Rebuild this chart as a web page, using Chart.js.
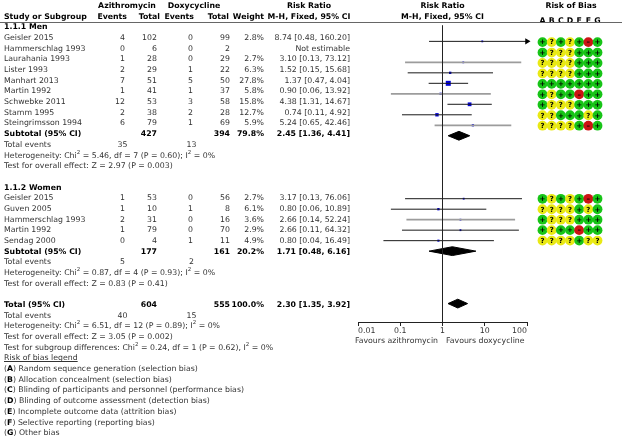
<!DOCTYPE html>
<html><head><meta charset="utf-8">
<script src="https://cdn.jsdelivr.net/npm/chart.js@4.4.1/dist/chart.umd.min.js"></script>
<style>
html,body{margin:0;padding:0;background:#fff;}
#wrap{position:relative;width:622px;height:448px;overflow:hidden;font-family:"DejaVu Sans",Verdana,sans-serif;font-size:7.8px;color:#333;}
canvas{position:absolute;top:0;}
#forest{left:0;}
#bias{left:533px;}
.t{position:absolute;white-space:nowrap;line-height:10px;}
.b{font-weight:bold;color:#000;}
.u{text-decoration:underline;}
sup{font-size:5.5px;line-height:0;vertical-align:4px;}
#rule{position:absolute;left:0;top:22px;width:622px;border-top:1px solid #666;}
</style></head>
<body><div id="wrap"><canvas id="forest" width="622" height="448"></canvas><canvas id="bias" width="74" height="448"></canvas><div id="rule"></div></div>
<script>
// ---------- DATA ----------
const subgroupNames = ['1.1.1 Men', '1.1.2 Women'];

const menStudies = ['Geisler 2015','Hammerschlag 1993','Laurahania 1993','Lister 1993','Manhart 2013','Martin 1992','Schwebke 2011','Stamm 1995','Steingrimsson 1994'];
const menAzEvents = [4,0,1,2,7,1,12,2,6];
const menAzTotal = [102,6,28,29,51,41,53,38,79];
const menDoxEvents = [0,0,0,1,5,1,3,2,1];
const menDoxTotal = [99,2,29,22,50,37,58,28,69];
const menWeight = [2.8,null,2.7,6.3,27.8,5.8,15.8,12.7,5.9];
const menRR = [8.74,null,3.10,1.52,1.37,0.90,4.38,0.74,5.24];
const menLo = [0.48,null,0.13,0.15,0.47,0.06,1.31,0.11,0.65];
const menHi = [160.20,null,73.12,15.68,4.04,13.92,14.67,4.92,42.46];
const menBias = ['+?+?+-+','+???+++','????+++','????+++','+++++++','+?++-++','+???+++','??+++?+','????+-+'];

const womenStudies = ['Geisler 2015','Guven 2005','Hammerschlag 1993','Martin 1992','Sendag 2000'];
const womenAzEvents = [1,1,2,1,0];
const womenAzTotal = [53,10,31,79,4];
const womenDoxEvents = [0,1,0,0,1];
const womenDoxTotal = [56,8,16,70,11];
const womenWeight = [2.7,6.1,3.6,2.9,4.9];
const womenRR = [3.17,0.80,2.66,2.66,0.80];
const womenLo = [0.13,0.06,0.14,0.11,0.04];
const womenHi = [76.06,10.89,52.24,64.32,16.49];
const womenBias = ['+?+?+-+','????+?+','+???+++','+?++-++','????+??'];

const subtotalAzTotal = [427,177];
const subtotalDoxTotal = [394,161];
const subtotalWeight = [79.8,20.2];
const subtotalRR = [2.45,1.71];
const subtotalLo = [1.36,0.48];
const subtotalHi = [4.41,6.16];
const subtotalAzEvents = [35,5];
const subtotalDoxEvents = [13,2];
const subHetChi = ['5.46','0.87'];
const subHetDf = [7,4];
const subHetP = ['0.60','0.93'];
const subHetI2 = [0,0];
const subZ = ['2.97','0.83'];
const subZP = ['0.003','0.41'];

const totalAzTotal = 604, totalDoxTotal = 555, totalWeight = 100.0;
const totalRR = 2.30, totalLo = 1.35, totalHi = 3.92;
const totalAzEvents = 40, totalDoxEvents = 15;
const totalHet = {chi:'6.51', df:12, p:'0.89', i2:0};
const totalZ = {z:'3.05', p:'0.002'};
const subgroupDiff = {chi:'0.24', df:1, p:'0.62', i2:0};

const axisTicks = [0.01, 0.1, 1, 10, 100];
const axisTickLabels = ['0.01','0.1','1','10','100'];
const favoursLeft = 'Favours azithromycin';
const favoursRight = 'Favours doxycycline';

const biasDomains = ['A','B','C','D','E','F','G'];
const biasLegend = ['Random sequence generation (selection bias)','Allocation concealment (selection bias)','Blinding of participants and personnel (performance bias)','Blinding of outcome assessment (detection bias)','Incomplete outcome data (attrition bias)','Selective reporting (reporting bias)','Other bias'];

// ---------- LAYOUT / STYLE ----------
const W = 622, H = 448;
const rowPx = 10.68, row0 = 6;
const rowY = r => row0 + rowPx * r;
const yMin = -row0 / rowPx, yMax = (H - row0) / rowPx;
const COL = {name:4, ae:125, at:157, de:193, dt:230, w:264, rr:350, evA:122.5, evD:191.5};
const HCOL = {ae:127, at:160, de:194, dt:229, w:264};
const ruleRow = (22 - row0) / rowPx;
const axisRow = (324 - row0) / rowPx;
const favRow = (341 - row0) / rowPx;
const greyRows = [5, 8, 11, 20];
const biasColor = {'+':'#17c417', '?':'#e9e914', '-':'#cc1414'};
const biasSymbol = {'+':'+', '?':'?', '-':'\u2013'};
const FONT = 'DejaVu Sans';
const FS = 7.8;

const wrap = document.getElementById('wrap');
function put(html, x, r, cls, align){
  const d = document.createElement('div');
  d.className = 't' + (cls ? ' ' + cls : '');
  d.innerHTML = html;
  d.style.top = (rowY(r) - 5) + 'px';
  if (align === 'r') { d.style.right = (W - x) + 'px'; d.style.textAlign = 'right'; }
  else if (align === 'c') { d.style.left = (x - 150) + 'px'; d.style.width = '300px'; d.style.textAlign = 'center'; }
  else d.style.left = x + 'px';
  wrap.appendChild(d);
}
const ciText = (rr, lo, hi) => rr.toFixed(2) + ' [' + lo.toFixed(2) + ', ' + hi.toFixed(2) + ']';
const hetText = (chi, df, p, i2, sep) => 'Heterogeneity: Chi<sup>2</sup> = ' + chi + ', df = ' + df + ' (P = ' + p + ')' + sep + ' I<sup>2</sup> = ' + i2 + '%';

// headers
put('Azithromycin', 127, 0, 'b', 'c');
put('Doxycycline', 194, 0, 'b', 'c');
put('Risk Ratio', 309, 0, 'b', 'c');
put('Risk Ratio', 442.5, 0, 'b', 'c');
put('Risk of Bias', 571, 0, 'b', 'c');
put('Study or Subgroup', COL.name, 1, 'b');
put('Events', HCOL.ae, 1, 'b', 'r');
put('Total', HCOL.at, 1, 'b', 'r');
put('Events', HCOL.de, 1, 'b', 'r');
put('Total', HCOL.dt, 1, 'b', 'r');
put('Weight', HCOL.w, 1, 'b', 'r');
put('M-H, Fixed, 95% CI', 309, 1, 'b', 'c');
put('M-H, Fixed, 95% CI', 442.5, 1, 'b', 'c');

const groups = [
  {studies:menStudies, ae:menAzEvents, at:menAzTotal, de:menDoxEvents, dt:menDoxTotal, w:menWeight, rr:menRR, lo:menLo, hi:menHi, bias:menBias},
  {studies:womenStudies, ae:womenAzEvents, at:womenAzTotal, de:womenDoxEvents, dt:womenDoxTotal, w:womenWeight, rr:womenRR, lo:womenLo, hi:womenHi, bias:womenBias}
];
const ci = [], diamonds = [], biasPts = [];
let r = 2;
groups.forEach((g, gi) => {
  put(subgroupNames[gi], COL.name, r, 'b'); r++;
  g.studies.forEach((s, i) => {
    put(s, COL.name, r);
    put(g.ae[i], COL.ae, r, '', 'r');
    put(g.at[i], COL.at, r, '', 'r');
    put(g.de[i], COL.de, r, '', 'r');
    put(g.dt[i], COL.dt, r, '', 'r');
    if (g.rr[i] != null) {
      put(g.w[i].toFixed(1) + '%', COL.w, r, '', 'r');
      put(ciText(g.rr[i], g.lo[i], g.hi[i]), COL.rr, r, '', 'r');
      ci.push({rr:g.rr[i], lo:g.lo[i], hi:g.hi[i], w:g.w[i], r:r});
    } else {
      put('Not estimable', COL.rr, r, '', 'r');
    }
    g.bias[i].split('').forEach((v, k) => biasPts.push({x:biasDomains[k], y:r, v:v}));
    r++;
  });
  put('Subtotal (95% CI)', COL.name, r, 'b');
  put(subtotalAzTotal[gi], COL.at, r, 'b', 'r');
  put(subtotalDoxTotal[gi], COL.dt, r, 'b', 'r');
  put(subtotalWeight[gi].toFixed(1) + '%', COL.w, r, 'b', 'r');
  put(ciText(subtotalRR[gi], subtotalLo[gi], subtotalHi[gi]), COL.rr, r, 'b', 'r');
  diamonds.push({est:subtotalRR[gi], lo:subtotalLo[gi], hi:subtotalHi[gi], r:r});
  r++;
  put('Total events', COL.name, r);
  put(subtotalAzEvents[gi], COL.evA, r, '', 'c');
  put(subtotalDoxEvents[gi], COL.evD, r, '', 'c');
  r++;
  put(hetText(subHetChi[gi], subHetDf[gi], subHetP[gi], subHetI2[gi], ';'), COL.name, r); r++;
  put('Test for overall effect: Z = ' + subZ[gi] + ' (P = ' + subZP[gi] + ')', COL.name, r); r++;
  r++;
});
put('Total (95% CI)', COL.name, r, 'b');
put(totalAzTotal, COL.at, r, 'b', 'r');
put(totalDoxTotal, COL.dt, r, 'b', 'r');
put(totalWeight.toFixed(1) + '%', COL.w, r, 'b', 'r');
put(ciText(totalRR, totalLo, totalHi), COL.rr, r, 'b', 'r');
diamonds.push({est:totalRR, lo:totalLo, hi:totalHi, r:r});
r++;
put('Total events', COL.name, r);
put(totalAzEvents, COL.evA, r, '', 'c');
put(totalDoxEvents, COL.evD, r, '', 'c');
r++;
put(hetText(totalHet.chi, totalHet.df, totalHet.p, totalHet.i2, ';'), COL.name, r); r++;
put('Test for overall effect: Z = ' + totalZ.z + ' (P = ' + totalZ.p + ')', COL.name, r); r++;
put('Test for subgroup differences: Chi<sup>2</sup> = ' + subgroupDiff.chi + ', df = ' + subgroupDiff.df + ' (P = ' + subgroupDiff.p + '), I<sup>2</sup> = ' + subgroupDiff.i2 + '%', COL.name, r); r++;
put('Risk of bias legend', COL.name, r, 'u'); r++;
biasLegend.forEach((txt, k) => { put('(<b style="color:#000">' + biasDomains[k] + '</b>) ' + txt, COL.name, r); r++; });

// favours labels
put(favoursLeft, 438, favRow, '', 'r');
put(favoursRight, 446, favRow, '');

// ---------- FOREST CHART ----------
const axisMin = axisTicks[0], axisMax = axisTicks[axisTicks.length - 1];
const datasets = [];
datasets.push({data:[{x:1, y:ruleRow}, {x:1, y:axisRow}], showLine:true, borderColor:'#222', borderWidth:1, pointRadius:0});
ci.forEach(c => {
  const grey = greyRows.indexOf(c.r) >= 0;
  const arrow = c.hi > axisMax;
  datasets.push({
    data:[{x:Math.max(c.lo, axisMin), y:c.r}, {x:Math.min(c.hi, axisMax), y:c.r}],
    showLine:true, borderColor: grey ? '#9c9c9c' : '#1a1a1a', borderWidth: grey ? 1.8 : 1,
    pointRadius:[0, arrow ? 3.5 : 0], pointStyle:'triangle', pointRotation:90,
    pointBackgroundColor:'#000', pointBorderWidth:0, clip:false
  });
});
datasets.push({
  data: ci.map(c => ({x:c.rr, y:c.r})),
  pointStyle:'rect', pointRadius: ci.map(c => Math.max(1.3, 0.67 * Math.sqrt(c.w))),
  pointBackgroundColor:'#0000dd', pointBorderWidth:0
});
const dh = 0.42;
diamonds.forEach(d => {
  datasets.push({
    data:[{x:d.lo, y:d.r}, {x:d.est, y:d.r - dh}, {x:d.hi, y:d.r}, {x:d.est, y:d.r + dh}, {x:d.lo, y:d.r}],
    showLine:true, fill:'shape', backgroundColor:'#000', borderColor:'#000', borderWidth:1, pointRadius:0
  });
});

new Chart(document.getElementById('forest'), {
  type:'scatter',
  data:{datasets:datasets},
  options:{
    responsive:false, animation:false, events:[],
    layout:{padding:{left:358, right:95, top:0, bottom:0}},
    plugins:{legend:{display:false}, tooltip:{enabled:false}},
    scales:{
      x:{type:'logarithmic', min:axisMin, max:axisMax, position:{y:axisRow},
        afterBuildTicks: s => { s.ticks = axisTicks.map(v => ({value:v})); },
        ticks:{callback:(v, i) => axisTickLabels[i], align:'inner', autoSkip:false, maxRotation:0, padding:1, color:'#333', font:{family:FONT, size:FS}},
        grid:{display:true, drawOnChartArea:false, drawTicks:true, tickLength:3, color:'#222'},
        border:{display:true, color:'#222', width:1}},
      y:{type:'linear', reverse:true, min:yMin, max:yMax, display:false}
    }
  }
});

// ---------- RISK OF BIAS CHART ----------
const lettersRow = 1 - (FS * 1.2 / 2) / rowPx;
const symbolPlugin = {
  id:'biasSymbols',
  afterDatasetsDraw(chart){
    const ctx = chart.ctx;
    const meta = chart.getDatasetMeta(0);
    const pts = chart.data.datasets[0].data;
    ctx.save();
    ctx.font = 'bold 7px "' + FONT + '"';
    ctx.textAlign = 'center';
    ctx.textBaseline = 'middle';
    ctx.fillStyle = '#000';
    meta.data.forEach((el, i) => ctx.fillText(biasSymbol[pts[i].v], el.x, el.y + 0.5));
    ctx.restore();
  }
};
new Chart(document.getElementById('bias'), {
  type:'scatter',
  data:{datasets:[{data:biasPts, pointRadius:4.9, pointBackgroundColor:biasPts.map(p => biasColor[p.v]), pointBorderWidth:0}]},
  options:{
    responsive:false, animation:false, events:[],
    layout:{padding:0},
    plugins:{legend:{display:false}, tooltip:{enabled:false}},
    scales:{
      x:{type:'category', labels:biasDomains, offset:true, position:{y:lettersRow},
        grid:{display:false, drawTicks:false}, border:{display:false},
        ticks:{padding:0, color:'#000', autoSkip:false, maxRotation:0, font:{family:FONT, size:FS, weight:'bold'}}},
      y:{type:'linear', reverse:true, min:yMin, max:yMax, display:false}
    }
  },
  plugins:[symbolPlugin]
});
</script></body></html>
